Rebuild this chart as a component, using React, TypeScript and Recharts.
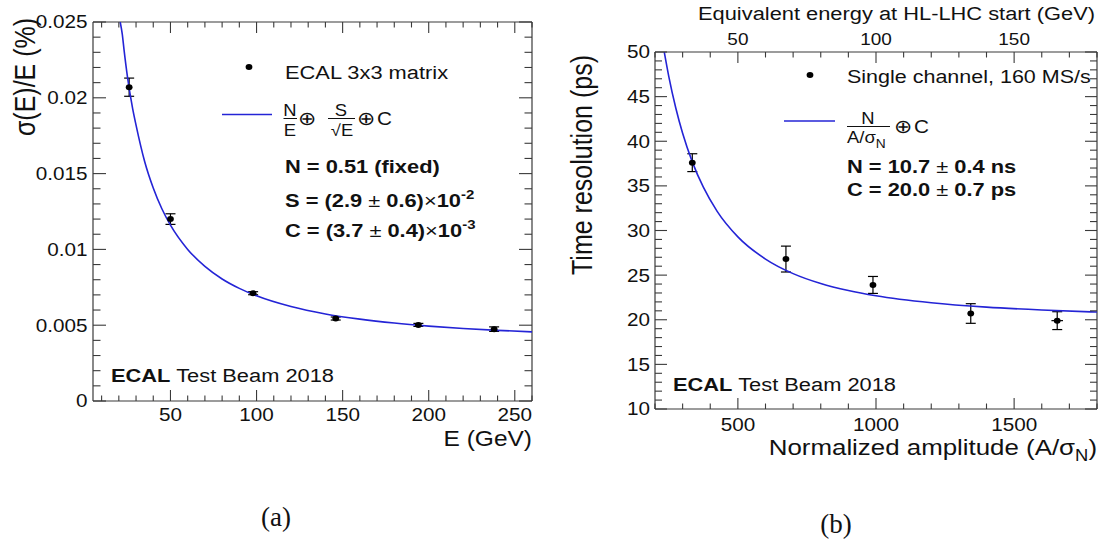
import React from 'react';
import { ComposedChart, Scatter, XAxis, YAxis, ErrorBar } from 'recharts';

// Lettering in this figure is drawn slightly wider than tall.
const K = 1.15;
const FONT = '"Liberation Sans", Arial, Helvetica, sans-serif';
const SERIF = '"Liberation Serif", "Times New Roman", serif';
const INK = '#111111';
const FRAME = '#3a3a3a';
const FIT = '#2424d6';

// ---- (a) energy resolution of the 3x3 matrix ----
const beamEnergy = [26, 50, 98, 146, 194, 238];
const energyRes = [0.0207, 0.012, 0.00711, 0.00544, 0.00502, 0.00474];
const energyResErr = [0.0006, 0.00035, 0.0001, 0.0001, 0.0001, 0.00015];

const fitEnergy = [20.8, 22, 23, 25, 28, 30, 35, 40, 45, 50, 60, 70, 80, 90, 100, 120, 140, 160, 180, 200, 220, 240, 260];
const fitEnergyRes = [
  0.025, 0.0242, 0.0232, 0.0214, 0.0193, 0.0182, 0.0158, 0.01405, 0.01268, 0.0116, 0.01, 0.00888,
  0.00805, 0.00743, 0.00694, 0.00623, 0.00574, 0.0054, 0.00514, 0.00494, 0.00478, 0.00466, 0.00456,
];

const energyXMajor = [50, 100, 150, 200, 250];
const energyYMajor = [0, 0.005, 0.01, 0.015, 0.02, 0.025];

// ---- (b) time resolution of a single channel ----
const amplitude = [335, 674, 989, 1343, 1656];
const timeRes = [37.6, 26.8, 23.9, 20.7, 19.9];
const timeResErr = [1.0, 1.45, 0.95, 1.1, 1.0];
const amplitudeErr = [0, 0, 0, 0, 21];

const fitAmplitude = [233.5, 250, 275, 300, 335, 375, 425, 500, 600, 700, 800, 900, 1000, 1200, 1400, 1600, 1800];
const fitTimeRes = [50, 47.24, 43.75, 40.89, 37.69, 34.85, 32.15, 29.29, 26.8, 25.17, 24.06, 23.27, 22.68, 21.9, 21.41, 21.09, 20.86];

const ampMajor = [500, 1000, 1500];
const timeMajor = [10, 15, 20, 25, 30, 35, 40, 45, 50];
const hlEnergyMajor = [50, 100, 150];

const steps = (from: number, to: number, step: number) =>
  Array.from({ length: Math.round((to - from) / step) + 1 }, (_, i) => +(from + i * step).toFixed(6));

type Box = { left: number; right: number; top: number; bottom: number };
type TickOpt = { major: number; minor: number; label?: boolean; size?: number; offset?: number };

// Inward ticks on all four sides, labels only on major ticks.
function axisTick(side: 'bottom' | 'top' | 'left' | 'right', box: Box, majors: number[], opt: TickOpt) {
  return (props: any) => {
    const v = props.payload.value;
    const isMajor = majors.some((m) => Math.abs(m - v) < 1e-9);
    const len = isMajor ? opt.major : opt.minor;
    const size = opt.size ?? 18;
    const off = opt.offset ?? 5;
    const showLabel = opt.label && isMajor;
    const label = String(v);
    if (side === 'bottom' || side === 'top') {
      const x = props.x;
      const y0 = side === 'bottom' ? box.bottom : box.top;
      const y1 = side === 'bottom' ? y0 - len : y0 + len;
      const ly = side === 'bottom' ? box.bottom + off : box.top - off;
      return (
        <g>
          <line x1={x} x2={x} y1={y0} y2={y1} stroke={FRAME} strokeWidth={1.1} />
          {showLabel && (
            <text transform={`translate(${x},${ly}) scale(${K},1)`} textAnchor="middle" fontSize={size} fontFamily={FONT} fill={INK}>
              {label}
            </text>
          )}
        </g>
      );
    }
    const y = props.y;
    const x0 = side === 'left' ? box.left : box.right;
    const x1 = side === 'left' ? x0 + len : x0 - len;
    return (
      <g>
        <line x1={x0} x2={x1} y1={y} y2={y} stroke={FRAME} strokeWidth={1.1} />
        {showLabel && (
          <text transform={`translate(${box.left - off},${y + size * 0.36}) scale(${K},1)`} textAnchor="end" fontSize={size} fontFamily={FONT} fill={INK}>
            {label}
          </text>
        )}
      </g>
    );
  };
}

const Dot = (p: any) => <ellipse cx={p.cx} cy={p.cy} rx={3.4} ry={3.0} fill="#000" />;
const NoMark = () => <g />;

type TxtProps = {
  x: number;
  y: number;
  size: number;
  anchor?: 'start' | 'middle' | 'end';
  weight?: string;
  rotate?: boolean;
  family?: string;
  stretch?: number;
  children: React.ReactNode;
};
const Txt = ({ x, y, size, anchor = 'start', weight = 'normal', rotate = false, family = FONT, stretch = K, children }: TxtProps) => (
  <text
    transform={`translate(${x},${y}) scale(${stretch},1)${rotate ? ' rotate(-90)' : ''}`}
    fontSize={size}
    textAnchor={anchor}
    fontWeight={weight}
    fontFamily={family}
    fill={INK}
  >
    {children}
  </text>
);

// Plot frames in each chart's own coordinates.
const boxA: Box = { left: 93, right: 532, top: 22, bottom: 401 };
const boxB: Box = { left: 95, right: 537, top: 52, bottom: 409 };
const AX = 1; // thickness reserved for each axis band
const axisLine = { stroke: FRAME, strokeWidth: 1.2 };

function EnergyChart() {
  const points = beamEnergy.map((x, i) => ({ x, y: energyRes[i], ey: energyResErr[i] }));
  const fit = fitEnergy.map((x, i) => ({ x, y: fitEnergyRes[i] }));
  const xTicks = steps(10, 260, 10);
  const yTicks = steps(0, 0.025, 0.001);
  const W = 560;
  const H = 470;
  return (
    <ComposedChart
      width={W}
      height={H}
      margin={{ top: boxA.top - AX, right: W - boxA.right - AX, bottom: H - boxA.bottom - AX, left: boxA.left - AX }}
    >
      <XAxis xAxisId="b" dataKey="x" type="number" domain={[5, 260]} allowDataOverflow ticks={xTicks} interval={0} height={AX}
        axisLine={axisLine} tickLine={false}
        tick={axisTick('bottom', boxA, energyXMajor, { major: 11, minor: 5.5, label: true, size: 18, offset: 20 })} />
      <XAxis xAxisId="t" orientation="top" dataKey="x" type="number" domain={[5, 260]} allowDataOverflow ticks={xTicks} interval={0} height={AX}
        axisLine={axisLine} tickLine={false}
        tick={axisTick('top', boxA, energyXMajor, { major: 11, minor: 5.5 })} />
      <YAxis yAxisId="l" dataKey="y" type="number" domain={[0, 0.025]} allowDataOverflow ticks={yTicks} interval={0} width={AX}
        axisLine={axisLine} tickLine={false}
        tick={axisTick('left', boxA, energyYMajor, { major: 13, minor: 7.5, label: true, size: 18, offset: 5.5 })} />
      <YAxis yAxisId="r" orientation="right" dataKey="y" type="number" domain={[0, 0.025]} allowDataOverflow ticks={yTicks} interval={0} width={AX}
        axisLine={axisLine} tickLine={false}
        tick={axisTick('right', boxA, energyYMajor, { major: 13, minor: 7.5 })} />
      <Scatter xAxisId="b" yAxisId="l" data={fit} dataKey="y" shape={NoMark} line={{ stroke: FIT, strokeWidth: 1.6 }} lineJointType="monotoneX" isAnimationActive={false} />
      <Scatter xAxisId="b" yAxisId="l" data={points} dataKey="y" shape={Dot} isAnimationActive={false}>
        <ErrorBar dataKey="ey" direction="y" width={5} stroke="#000" strokeWidth={1.2} />
      </Scatter>
    </ComposedChart>
  );
}

function TimingChart() {
  const points = amplitude.map((x, i) => ({ x, y: timeRes[i], ey: timeResErr[i], ex: amplitudeErr[i] }));
  const fit = fitAmplitude.map((x, i) => ({ x, y: fitTimeRes[i] }));
  const xTicks = steps(200, 1800, 100);
  const topTicks = steps(20, 180, 10);
  const yTicks = steps(10, 50, 1);
  const W = 547;
  const H = 470;
  return (
    <ComposedChart
      width={W}
      height={H}
      margin={{ top: boxB.top - AX, right: W - boxB.right - AX, bottom: H - boxB.bottom - AX, left: boxB.left - AX }}
    >
      <XAxis xAxisId="b" dataKey="x" type="number" domain={[200, 1800]} allowDataOverflow ticks={xTicks} interval={0} height={AX}
        axisLine={axisLine} tickLine={false}
        tick={axisTick('bottom', boxB, ampMajor, { major: 11, minor: 5.5, label: true, size: 18, offset: 22 })} />
      <XAxis xAxisId="t" orientation="top" dataKey="x" type="number" domain={[20, 180]} allowDataOverflow ticks={topTicks} interval={0} height={AX}
        axisLine={axisLine} tickLine={false}
        tick={axisTick('top', boxB, hlEnergyMajor, { major: 11, minor: 5.5, label: true, size: 16.5, offset: 7 })} />
      <YAxis yAxisId="l" dataKey="y" type="number" domain={[10, 50]} allowDataOverflow ticks={yTicks} interval={0} width={AX}
        axisLine={axisLine} tickLine={false}
        tick={axisTick('left', boxB, timeMajor, { major: 12, minor: 7, label: true, size: 18, offset: 5 })} />
      <YAxis yAxisId="r" orientation="right" dataKey="y" type="number" domain={[10, 50]} allowDataOverflow ticks={yTicks} interval={0} width={AX}
        axisLine={axisLine} tickLine={false}
        tick={axisTick('right', boxB, timeMajor, { major: 12, minor: 7 })} />
      <Scatter xAxisId="b" yAxisId="l" data={fit} dataKey="y" shape={NoMark} line={{ stroke: FIT, strokeWidth: 1.6 }} lineJointType="monotoneX" isAnimationActive={false} />
      <Scatter xAxisId="b" yAxisId="l" data={points} dataKey="y" shape={Dot} isAnimationActive={false}>
        <ErrorBar dataKey="ey" direction="y" width={5} stroke="#000" strokeWidth={1.2} />
        <ErrorBar dataKey="ex" direction="x" width={0} stroke="#000" strokeWidth={1.2} />
      </Scatter>
    </ComposedChart>
  );
}

function Annotations() {
  return (
    <svg width={1107} height={547} style={{ position: 'absolute', left: 0, top: 0, pointerEvents: 'none' }}>
      {/* (a) axis titles */}
      <Txt x={35} y={77} size={25} anchor="middle" rotate>σ(E)/E (%)</Txt>
      <Txt x={532} y={446} size={21.3} anchor="end">E (GeV)</Txt>

      {/* (a) legend */}
      <ellipse cx={249} cy={67} rx={3.4} ry={3} fill="#000" />
      <Txt x={285} y={78.5} size={19}>ECAL 3x3 matrix</Txt>
      <line x1={222} x2={272} y1={114.5} y2={114.5} stroke={FIT} strokeWidth={1.6} />
      <Txt x={290} y={116} size={16} anchor="middle">N</Txt>
      <line x1={283.5} x2={297} y1={118.5} y2={118.5} stroke={INK} strokeWidth={1} />
      <Txt x={290} y={135.5} size={16} anchor="middle">E</Txt>
      <Txt x={307} y={125} size={19} anchor="middle">⊕</Txt>
      <Txt x={341} y={116} size={16} anchor="middle">S</Txt>
      <line x1={328} x2={355} y1={118.5} y2={118.5} stroke={INK} strokeWidth={1} />
      <Txt x={342} y={135.5} size={16} anchor="middle">√E</Txt>
      <Txt x={366} y={125} size={19} anchor="middle">⊕</Txt>
      <Txt x={377} y={125} size={18}>C</Txt>
      <Txt x={285} y={173} size={19} weight="bold">N = 0.51 (fixed)</Txt>
      <Txt x={285} y={206.5} size={19} weight="bold">
        S = (2.9 <tspan fontWeight="normal">±</tspan> 0.6)<tspan fontWeight="normal">×</tspan>10
        <tspan dy={-8} fontSize={13}>-2</tspan>
      </Txt>
      <Txt x={285} y={236.5} size={19} weight="bold">
        C = (3.7 <tspan fontWeight="normal">±</tspan> 0.4)<tspan fontWeight="normal">×</tspan>10
        <tspan dy={-8} fontSize={13}>-3</tspan>
      </Txt>
      <Txt x={111} y={382} size={19}>
        <tspan fontWeight="bold">ECAL</tspan> Test Beam 2018
      </Txt>

      {/* (b) axis titles */}
      <Txt x={592} y={165} size={25} anchor="middle" rotate>Time resolution (ps)</Txt>
      <Txt x={1097} y={455} size={22.5} anchor="end">
        Normalized amplitude (A/σ<tspan dy={6} fontSize={16}>N</tspan><tspan dy={-6}>)</tspan>
      </Txt>
      <Txt x={698} y={20} size={19}>Equivalent energy at HL-LHC start (GeV)</Txt>

      {/* (b) legend */}
      <ellipse cx={810} cy={75} rx={3.4} ry={3} fill="#000" />
      <Txt x={847} y={83} size={18.7}>Single channel, 160 MS/s</Txt>
      <line x1={784} x2={835} y1={121} y2={121} stroke={FIT} strokeWidth={1.6} />
      <Txt x={868} y={123.5} size={16} anchor="middle">N</Txt>
      <line x1={847} x2={890} y1={126.5} y2={126.5} stroke={INK} strokeWidth={1} />
      <Txt x={847} y={143} size={16}>
        A/σ<tspan dy={5} fontSize={12}>N</tspan>
      </Txt>
      <Txt x={903} y={133} size={19} anchor="middle">⊕</Txt>
      <Txt x={914} y={133} size={18}>C</Txt>
      <Txt x={847} y={173} size={19} weight="bold">
        N = 10.7 <tspan fontWeight="normal">±</tspan> 0.4 ns
      </Txt>
      <Txt x={847} y={195.5} size={19} weight="bold">
        C = 20.0 <tspan fontWeight="normal">±</tspan> 0.7 ps
      </Txt>
      <Txt x={673} y={391} size={19}>
        <tspan fontWeight="bold">ECAL</tspan> Test Beam 2018
      </Txt>

      {/* sub-figure captions */}
      <Txt x={276} y={526} size={27} anchor="middle" family={SERIF} stretch={1}>(a)</Txt>
      <Txt x={836} y={533} size={27} anchor="middle" family={SERIF} stretch={1}>(b)</Txt>
    </svg>
  );
}

export default function App() {
  return (
    <div style={{ position: 'absolute', left: 0, top: 0, width: 1107, height: 547, background: '#fff', overflow: 'hidden' }}>
      <div style={{ position: 'absolute', left: 0, top: 0 }}>
        <EnergyChart />
      </div>
      <div style={{ position: 'absolute', left: 560, top: 0 }}>
        <TimingChart />
      </div>
      <Annotations />
    </div>
  );
}
